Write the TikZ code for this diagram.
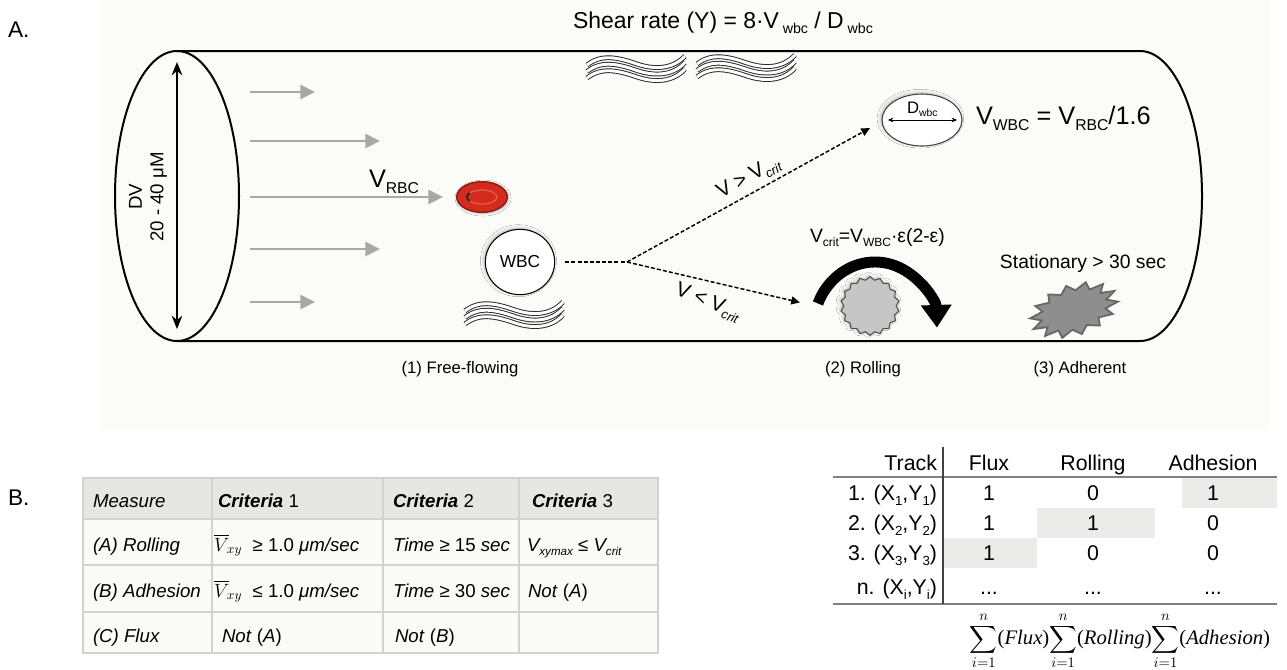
\documentclass[tikz,border=0pt]{standalone}
\usepackage{amsmath}
\usepackage{fontspec}
\usepackage{graphicx}
\setmainfont{Liberation Sans}
\newfontfamily\tnr{Liberation Serif}
\usetikzlibrary{arrows.meta,shapes.geometric,shadows.blur,calc}

\definecolor{panel}{HTML}{FBFCF8}
\definecolor{flowgray}{HTML}{A8A8A8}
\definecolor{cellbg}{HTML}{FAFAF7}
\definecolor{headbg}{HTML}{E6E6E3}
\definecolor{rulegray}{HTML}{D2D2D0}
\definecolor{rbc}{HTML}{D32B1E}
\definecolor{rbcdark}{HTML}{8A1810}
\definecolor{rbclight}{HTML}{E8604C}
\definecolor{hl}{HTML}{EBEBEA}
\definecolor{rollgray}{HTML}{C6C6C6}
\definecolor{adhgray}{HTML}{8E8E8E}
\definecolor{adhdark}{HTML}{666666}

% lowered, reduced subscript as used in the labels
\newcommand\lo[1]{\raisebox{-0.45ex}{\scalebox{0.62}{#1}}}
\newcommand\fsz[1]{\fontsize{#1pt}{#1pt}\selectfont}

\begin{document}
\begin{tikzpicture}[x=0.75pt,y=-0.75pt,
  every node/.style={inner sep=0pt,outer sep=0pt},
  tubeline/.style={line width=1.5pt},
  flow/.style={draw=flowgray,line width=2.1pt,-{Triangle[length=11pt,width=10.5pt]}},
  dashline/.style={line width=1.1pt,dash pattern=on 3pt off 1.6pt},
  dashtip/.style={-{Triangle[length=6.5pt,width=6pt]}},
  band/.style={draw=black!85,double=white,double distance=2.2pt,line width=0.7pt},
  gridline/.style={draw=rulegray,line width=1.1pt},
  tab/.style={font=\fsz{14},anchor=base west},
  trk/.style={font=\fsz{16},anchor=base},
  caption/.style={font=\fsz{12.5},anchor=base},
  cellshadow/.style={blur shadow={shadow xshift=-1.2pt,shadow yshift=1pt,shadow blur radius=2.5pt,shadow opacity=25}},
]
\useasboundingbox (0,0) rectangle (1287,669);
\fill[white] (0,0) rectangle (1287,669);
\fill[panel] (101,0) rectangle (1270,430);

% ---------- panel labels ----------
\node[anchor=base west,font=\fsz{17}] (lblA) at (8,37) {A.};
\node[anchor=base west,font=\fsz{17}] (lblB) at (8,505) {B.};

% ---------- title ----------
\node[anchor=base,font=\fsz{17.2}] (title) at (723,28)
  {Shear rate (Y) = 8·V\,\lo{wbc} / D\,\lo{wbc}};

% ---------- vessel ----------
\draw[tubeline] (177,51) -- (1140,51)
  arc[start angle=-90,end angle=90,x radius=62,y radius=145] -- (177,341);
\draw[tubeline] (177,196) ellipse[x radius=62,y radius=145];

% vessel diameter
\coordinate (dvtop) at (177,62);
\coordinate (dvbot) at (177,329);
\draw[line width=1.2pt,{Stealth[length=10pt,width=8pt]}-{Stealth[length=10pt,width=8pt]}] (dvtop) -- (dvbot);
\node[rotate=90,align=center,font=\fontsize{14pt}{16pt}\selectfont] (dv) at (148,197) {DV\\20 - 40 μM};

% ---------- blood flow ----------
\foreach \yy/\xe [count=\i] in {92/315,141/380,197/443,249/380,302/315}{
  \coordinate (fs\i) at (250,\yy);
  \coordinate (fe\i) at (\xe,\yy);
  \draw[flow] (fs\i) -- (fe\i);
}
\node[anchor=base west,font=\fsz{19}] (vrbc) at (369,187) {V\lo{RBC}};

% red blood cell
\node[ellipse,minimum width=38pt,minimum height=23pt,fill=rbc,draw=rbcdark,line width=1pt,
  blur shadow={shadow xshift=0.8pt,shadow yshift=-0.8pt,shadow blur radius=2pt,shadow opacity=30}] (rbc) at (482,197) {};
\draw[rbclight,line width=0.9pt] (rbc.center) ellipse[x radius=15,y radius=7];
\draw[black!85,line width=1.4pt] ($(rbc.center)+(145:15 and 7)$)
  arc[start angle=145,end angle=215,x radius=15,y radius=7];

% ---------- shear symbols ----------
\foreach \sx/\sy in {587/65,697/64,465/311}{
  \begin{scope}[shift={(\sx,\sy)}]
    \foreach \k in {0,6.5,13}{
      \draw[band] (0,\k) .. controls (14,\k-11) and (30,\k-8) .. (50,\k-1)
        .. controls (68,\k+5) and (86,\k+4) .. (98,\k-9);
    }
  \end{scope}
}

% ---------- white blood cell and its fates ----------
\node[ellipse,draw,fill=white,line width=0.8pt,minimum width=52pt,minimum height=49pt,
  cellshadow,font=\fsz{13}] (wbc) at (520,262) {WBC};
\coordinate (fork) at (627,262);
\draw[dashline,shorten <=8pt] (wbc.east) -- (fork);

% free-flowing cell with its diameter
\node[ellipse,draw=black!75,fill=white,line width=0.8pt,minimum width=60pt,minimum height=39pt,
  cellshadow] (dwbc) at (922,120) {};
\draw[line width=0.5pt,{Stealth[length=4pt,width=3.5pt]}-{Stealth[length=4pt,width=3.5pt]}]
  ($(dwbc.west)+(6,0)$) -- ($(dwbc.east)+(-5,0)$);
\node[anchor=base west,font=\fsz{12.5}] (dlbl) at (907,113) {D\lo{wbc}};
\node[anchor=base west,font=\fsz{19}] (vwbc) at (976,124) {V\lo{WBC} = V\lo{RBC}/1.6};

\draw[dashline,dashtip] (fork) -- ($(dwbc.west)+(-12,8)$);
\node[rotate=29,font=\fsz{15.5}] (vgt) at (749,178) {V > V\lo{\textit{crit}}};

% rolling cell
\node[star,star points=18,star point ratio=1.12,minimum size=44pt,fill=rollgray,
  draw=black!70,line width=0.8pt,cellshadow] (roll) at (870,306) {};
\coordinate (rollc) at (875,330);
\coordinate (rolltail) at ($(rollc)+(203:62 and 68)$);
\draw[line width=8.2pt,-{Triangle[length=17pt,width=22pt]}] (rolltail)
  arc[start angle=203,end angle=358,x radius=62,y radius=68];
\draw[dashline,dashtip] (fork) -- ($(rolltail)+(-18,-1)$);
\node[rotate=-21,font=\fsz{15.5}] (vlt) at (708,303) {V < V\lo{\textit{crit}}};
\node[anchor=base west,font=\fsz{14.5}] (vcrit) at (810,242) {V\lo{crit}=V\lo{WBC}·ε(2-ε)};

% adherent cell
\node[star,star points=14,star point ratio=1.35,minimum size=38pt,rotate=18,xscale=1.8,
  fill=adhgray,draw=adhdark,line width=1.3pt] (adh) at (1074,310) {};
\node[anchor=base,font=\fsz{14.5}] (stat) at (1083,268) {Stationary > 30 sec};

% captions
\node[caption] (cap1) at (460,373) {(1) Free-flowing};
\node[caption] (cap2) at (863,373) {(2) Rolling};
\node[caption] (cap3) at (1080,373) {(3) Adherent};

% ---------- criteria table ----------
\fill[cellbg] (83,478) rectangle (658,653);
\fill[headbg] (83,478) rectangle (658,519);
\draw[gridline] (83,478) rectangle (658,653);
\foreach \yy in {519,565,612} \draw[gridline] (83,\yy) -- (658,\yy);
\foreach \xx in {212,383,519} \draw[gridline] (\xx,478) -- (\xx,653);

\node[tab] (h0) at (93,507) {\textit{Measure}};
\node[tab] (h1) at (218,507) {\textbf{\textit{Criteria}} 1};
\node[tab] (h2) at (393,507) {\textbf{\textit{Criteria}} 2};
\node[tab] (h3) at (532,507) {\textbf{\textit{Criteria}} 3};

\node[tab] (a0) at (93,551) {\textit{(A) Rolling}};
\node[tab] (a1) at (214,551) {$\overline{V}_{\!xy}$\ \ ≥ 1.0 \textit{μm/sec}};
\node[tab] (a2) at (393,551) {\textit{Time} ≥ 15 \textit{sec}};
\node[tab] (a3) at (527,551) {\textit{V\lo{xymax}} ≤ \textit{V\lo{crit}}};

\node[tab] (b0) at (93,597) {\textit{(B) Adhesion}};
\node[tab] (b1) at (214,597) {$\overline{V}_{\!xy}$\ \ ≤ 1.0 \textit{μm/sec}};
\node[tab] (b2) at (393,597) {\textit{Time} ≥ 30 \textit{sec}};
\node[tab] (b3) at (528,597) {\textit{Not} (\textit{A})};

\node[tab] (c0) at (93,642) {\textit{(C) Flux}};
\node[tab] (c1) at (222,642) {\textit{Not} (\textit{A})};
\node[tab] (c2) at (395,642) {\textit{Not} (\textit{B})};

% ---------- track table ----------
\fill[hl] (1182,477) rectangle (1277,508);
\fill[hl] (1037,508) rectangle (1155,538);
\fill[hl] (943,538) rectangle (1037,568);
\draw[draw=black!50,line width=1.4pt] (833,477) -- (1277,477);
\draw[draw=black!50,line width=1.4pt] (833,604) -- (1277,604);
\draw[draw=black!75,line width=1.5pt] (943,447) -- (943,604);

\node[trk,anchor=base east] (tk) at (937,470) {Track};
\node[trk] (tf) at (989,470) {Flux};
\node[trk] (tr) at (1093,470) {Rolling};
\node[trk] (ta) at (1213,470) {Adhesion};

\node[trk,anchor=base east] (r1) at (937,500) {1. (X\lo{1},Y\lo{1})};
\node[trk,anchor=base east] (r2) at (937,530) {2. (X\lo{2},Y\lo{2})};
\node[trk,anchor=base east] (r3) at (937,560) {3. (X\lo{3},Y\lo{3})};
\node[trk,anchor=base east] (rn) at (937,594) {n. (X\lo{i},Y\lo{i})};

\node[trk] (v11) at (989,500) {1};
\node[trk] (v12) at (1093,500) {0};
\node[trk] (v13) at (1213,500) {1};
\node[trk] (v21) at (989,530) {1};
\node[trk] (v22) at (1093,530) {1};
\node[trk] (v23) at (1213,530) {0};
\node[trk] (v31) at (989,560) {1};
\node[trk] (v32) at (1093,560) {0};
\node[trk] (v33) at (1213,560) {0};
\node[trk] (vn1) at (989,594) {...};
\node[trk] (vn2) at (1093,594) {...};
\node[trk] (vn3) at (1213,594) {...};

\node[font=\fsz{15.5}\tnr] (sums) at (1120,641)
  {$\displaystyle\sum_{i=1}^{n}$(\textit{Flux})$\displaystyle\sum_{i=1}^{n}$(\textit{Rolling})$\displaystyle\sum_{i=1}^{n}$(\textit{Adhesion})};
\end{tikzpicture}
\end{document}
